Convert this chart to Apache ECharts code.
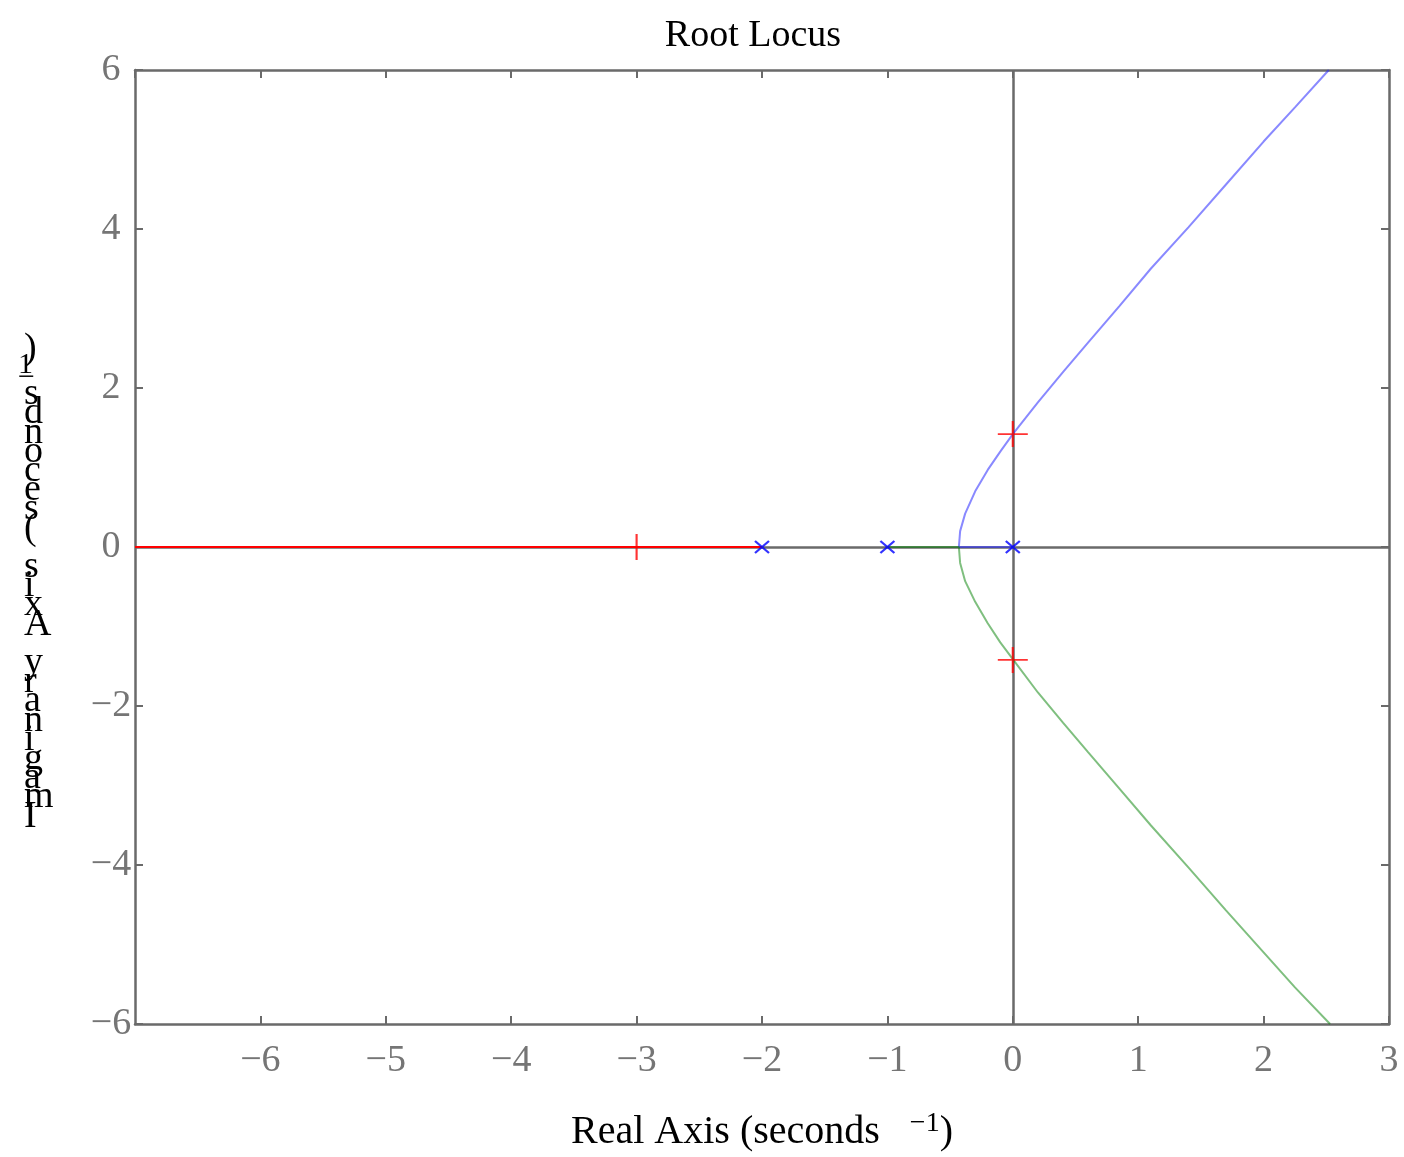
<!DOCTYPE html>
<html>
<head>
<meta charset="utf-8">
<script src="https://cdn.jsdelivr.net/npm/echarts@6/dist/echarts.min.js"></script>
<style>
  html, body { margin: 0; padding: 0; background: #fff; }
  #chart { width: 1404px; height: 1157px; }
</style>
</head>
<body>
<div id="chart"></div>
<script>
// root locus branches, [real, imag]
var redBranch = [[-2, 0], [-7, 0]];
var blueBranch = [
  [0, 0], [-0.43, 0], [-0.42, 0.2], [-0.38, 0.42], [-0.3, 0.7], [-0.2, 0.97],
  [-0.1, 1.2], [0, 1.42], [0.2, 1.82], [0.4, 2.2], [0.6, 2.57], [0.85, 3.03],
  [1.1, 3.5], [1.4, 4.02], [1.7, 4.56], [2.0, 5.1], [2.25, 5.53], [2.52, 6]
];
var greenBranch = [
  [-1, 0], [-0.43, 0], [-0.42, -0.2], [-0.38, -0.43], [-0.3, -0.69], [-0.2, -0.96],
  [-0.1, -1.2], [0, -1.41], [0.2, -1.83], [0.4, -2.21], [0.6, -2.58], [0.85, -3.04],
  [1.1, -3.5], [1.4, -4.03], [1.7, -4.57], [2.0, -5.1], [2.25, -5.54], [2.53, -6]
];
var openLoopPoles = [[-2, 0], [-1, 0], [0, 0]];
var gainPoints = [[-3, 0], [0, 1.42], [0, -1.42]];

var xMin = -7, xMax = 3, xStep = 1;
var yMin = -6, yMax = 6, yStep = 2;

var titleText = "Root Locus";
var xName = "Real Axis (seconds";
var yName = "Imaginary Axis (seconds";
var unitSup = "\u22121";

var serif = "'Liberation Serif', 'DejaVu Serif', serif";
var frameColor = "#6a6a6a";
var tickColor = "#757575";

function minus(v) {
  return String(v).replace("-", "\u2212");
}

var chart = echarts.init(document.getElementById("chart"));

var frameAxis = {
  axisLine: { show: true, onZero: false, lineStyle: { color: frameColor, width: 2.5 } },
  axisTick: { show: true, inside: true, length: 8, lineStyle: { color: frameColor, width: 2 } },
  splitLine: { show: false }
};

// stacked letters of the y label, read bottom to top
var yLines = [")"];
unitSup.split("").reverse().forEach(function (c) { yLines.push("{sup|" + c + "}"); });
yName.split("").reverse().forEach(function (c) { yLines.push("{n|" + c + "}"); });
var yStacked = yLines.join("\n");

chart.setOption({
  animation: false,
  backgroundColor: "#fff",
  title: {
    text: titleText,
    left: 748,
    top: 12,
    textAlign: "center",
    textStyle: { fontFamily: serif, fontSize: 38, fontWeight: "normal", color: "#000" }
  },
  grid: { left: 135, right: 15, top: 70, bottom: 132, containLabel: false },
  xAxis: [
    Object.assign({}, frameAxis, {
      type: "value", position: "bottom", min: xMin, max: xMax, interval: xStep,
      name: xName + "   {sup|" + unitSup + "}{n|)}",
      nameLocation: "middle",
      nameGap: 86,
      nameTextStyle: {
        fontFamily: serif, fontSize: 40, color: "#000",
        rich: {
          sup: { fontFamily: serif, fontSize: 28, color: "#000", padding: [0, 0, 16, 0] },
          n: { fontFamily: serif, fontSize: 40, color: "#000" }
        }
      },
      axisLabel: {
        showMinLabel: false, margin: 18, color: tickColor,
        fontFamily: serif, fontSize: 38, formatter: minus
      }
    }),
    Object.assign({}, frameAxis, {
      type: "value", position: "top", min: xMin, max: xMax, interval: xStep,
      axisLabel: { show: false }
    })
  ],
  yAxis: [
    Object.assign({}, frameAxis, {
      type: "value", position: "left", min: yMin, max: yMax, interval: yStep,
      axisLabel: {
        margin: 24, align: "center", color: tickColor,
        fontFamily: serif, fontSize: 38, formatter: minus
      }
    }),
    Object.assign({}, frameAxis, {
      type: "value", position: "right", min: yMin, max: yMax, interval: yStep,
      axisLabel: { show: false }
    })
  ],
  graphic: [{
    type: "text",
    left: 18,
    top: 330,
    style: {
      text: yStacked,
      fontFamily: serif,
      fontSize: 38,
      lineHeight: 19.2,
      fill: "#000",
      align: "left",
      rich: {
        n: { fontFamily: serif, fontSize: 38, lineHeight: 19.2, fill: "#000" },
        sup: { fontFamily: serif, fontSize: 30, lineHeight: 13, fill: "#000", padding: [0, 0, 0, -6] }
      }
    }
  }],
  series: [
    {
      type: "line",
      data: redBranch,
      showSymbol: false,
      z: 3,
      lineStyle: { color: "#ff0000", width: 2 },
      markLine: {
        silent: true,
        symbol: "none",
        label: { show: false },
        lineStyle: { color: frameColor, width: 2.5, type: "solid" },
        data: [{ xAxis: 0 }, { yAxis: 0 }],
        z: 1
      }
    },
    {
      type: "line",
      data: blueBranch,
      showSymbol: false,
      z: 3,
      lineStyle: { color: "rgba(40,40,255,0.55)", width: 2 }
    },
    {
      type: "line",
      data: greenBranch,
      showSymbol: false,
      z: 3,
      lineStyle: { color: "rgba(0,128,0,0.5)", width: 2 }
    },
    {
      type: "scatter",
      data: openLoopPoles,
      symbol: "path://M0,0L10,10M10,0L0,10",
      symbolSize: [14, 12],
      z: 5,
      itemStyle: { color: "none", borderColor: "#0000ff", borderWidth: 2 }
    },
    {
      type: "scatter",
      data: gainPoints,
      symbol: "path://M0,5L10,5M5,0L5,10",
      symbolSize: [30, 26],
      z: 6,
      itemStyle: { color: "none", borderColor: "#ff0000", borderWidth: 2 }
    }
  ]
});
</script>
</body>
</html>
